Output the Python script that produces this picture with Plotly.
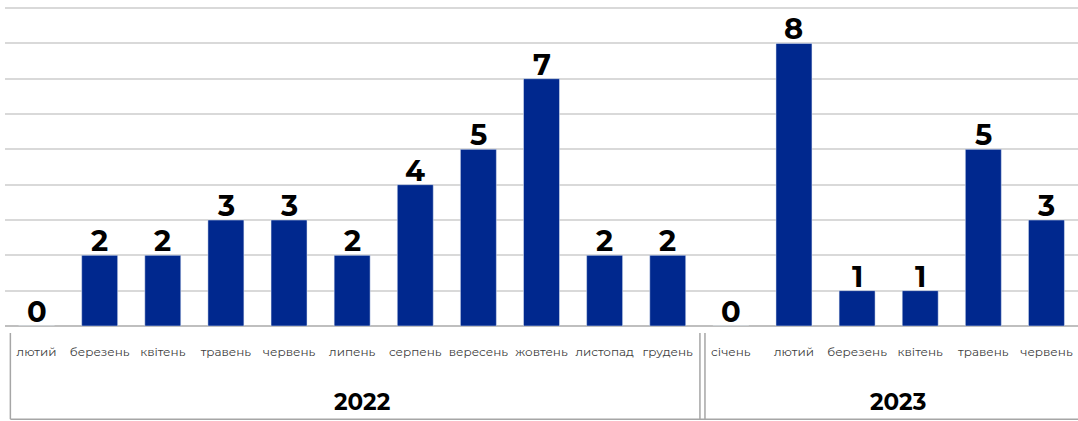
import plotly.graph_objects as go

# Monthly counts grouped by year
year_names = ["2022", "2023"]
year_sizes = [11, 6]
months = ["лютий", "березень", "квітень", "травень", "червень", "липень", "серпень",
          "вересень", "жовтень", "листопад", "грудень",
          "січень", "лютий", "березень", "квітень", "травень", "червень"]
counts = [0, 2, 2, 3, 3, 2, 4, 5, 7, 2, 2, 0, 8, 1, 1, 5, 3]

BAR = "#00288E"
FONT = "Montserrat, Inter, sans-serif"
positions = list(range(len(months)))

fig = go.Figure(go.Bar(
    x=positions,
    y=counts,
    marker_color=BAR,
    hovertemplate="%{y}<extra></extra>",
))

# Value labels sitting just above each bar
annotations = [
    dict(x=p, y=v, xref="x", yref="y", text=str(v), showarrow=False,
         yanchor="bottom", yshift=-5,
         font=dict(family=FONT, size=29, color="#000000", weight=700))
    for p, v in zip(positions, counts)
]

# Group frame below the axis: one box per year, double rule between boxes
line = dict(color="#A6A6A6", width=1.5)
y_top, y_bot = -0.022, -0.292
boundary = year_sizes[0] - 0.5 + 0.05
gap = 0.04
shapes = [
    dict(type="line", xref="paper", yref="paper", x0=0.005, x1=0.005, y0=y_top, y1=y_bot, line=line),
    dict(type="line", xref="x", yref="paper", x0=boundary - gap, x1=boundary - gap, y0=y_top, y1=y_bot, line=line),
    dict(type="line", xref="x", yref="paper", x0=boundary + gap, x1=boundary + gap, y0=y_top, y1=y_bot, line=line),
    dict(type="line", xref="paper", x0=0.005, yref="paper", y0=y_bot, x1=1, y1=y_bot, line=line),
]

start = 0
for name, size in zip(year_names, year_sizes):
    annotations.append(dict(
        x=start + (size - 1) / 2 + 0.15, xref="x",
        y=-0.238, yref="paper", yanchor="middle", text=f"<b>{name}</b>", showarrow=False,
        font=dict(family=FONT, size=23, color="#000000"),
    ))
    start += size

fig.update_layout(
    width=1078, height=421,
    margin=dict(l=5, r=0, t=7, b=95),
    paper_bgcolor="white", plot_bgcolor="white",
    bargap=0.43,
    showlegend=False,
    font=dict(family=FONT, color="#404040", size=12),
    shapes=shapes,
    annotations=annotations,
)
fig.update_yaxes(range=[0, 9.03], tick0=0, dtick=1, showgrid=True, gridcolor="#D9D9D9", gridwidth=1.5,
                 showticklabels=False, zeroline=True, zerolinecolor="#BFBFBF", zerolinewidth=1.5)
fig.update_xaxes(range=[-0.5, len(months) - 0.5], showgrid=False, showline=False,
                 tickmode="array", tickvals=positions, ticktext=months, tickangle=0,
                 tickfont=dict(family=FONT, size=12, color="#404040"), ticks="",
                 ticklabelstandoff=17)

fig.write_html("out.html")
